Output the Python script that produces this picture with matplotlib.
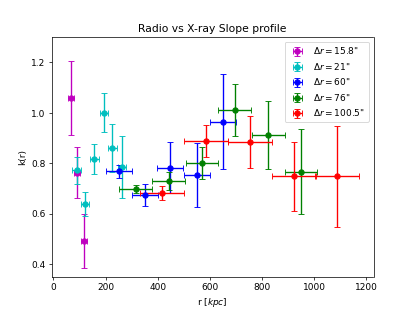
import matplotlib
matplotlib.use("Agg")
import matplotlib.pyplot as plt

labels = ['$\\Delta r = 15.8$"', '$\\Delta r = 21$"', '$\\Delta r = 60$"',
          '$\\Delta r = 76$"', '$\\Delta r = 100.5$"']
colors = ['m', 'c', 'b', 'g', 'r']

r_m = [66, 89, 117]
k_m = [1.057, 0.763, 0.491]
ke_m = [0.147, 0.102, 0.106]
re_m = [12, 12, 12]

r_c = [89, 121, 157, 194, 226, 263]
k_c = [0.772, 0.639, 0.817, 1.001, 0.862, 0.786]
ke_c = [0.053, 0.048, 0.06, 0.079, 0.095, 0.123]
re_c = [16.5, 16.5, 16.5, 16.5, 16.5, 16.5]

r_b = [251, 351, 449, 550, 650]
k_b = [0.768, 0.675, 0.783, 0.755, 0.964]
ke_b = [0.025, 0.044, 0.101, 0.127, 0.188]
re_b = [50, 50, 50, 50, 50]

r_g = [316, 443, 570, 696, 824, 950]
k_g = [0.697, 0.729, 0.801, 1.010, 0.912, 0.767]
ke_g = [0.016, 0.036, 0.064, 0.103, 0.135, 0.167]
re_g = [63, 63, 63, 63, 63, 63]

r_r = [418, 586, 753, 922, 1088]
k_r = [0.683, 0.887, 0.883, 0.748, 0.748]
ke_r = [0.027, 0.063, 0.103, 0.137, 0.2]
re_r = [84, 84, 84, 84, 84]

series = [(r_m, k_m, re_m, ke_m), (r_c, k_c, re_c, ke_c), (r_b, k_b, re_b, ke_b),
          (r_g, k_g, re_g, ke_g), (r_r, k_r, re_r, ke_r)]

fig, ax = plt.subplots(figsize=(6.4, 4.8), dpi=415 / 6.4)
for (x, y, xe, ye), c, lab in zip(series, colors, labels):
    ax.errorbar(x, y, xerr=xe, yerr=ye, fmt='o', color=c, capsize=3, label=lab)

ax.set_title('Radio vs X-ray Slope profile')
ax.set_xlabel('r [$kpc$]')
ax.set_ylabel('k(r)')
ax.set_xticks([0, 200, 400, 600, 800, 1000, 1200])
ax.set_yticks([0.4, 0.6, 0.8, 1.0, 1.2])
ax.set_xlim(-6, 1228)
ax.set_ylim(0.35, 1.30)
ax.legend(loc='upper right')
fig.savefig('out.png')
